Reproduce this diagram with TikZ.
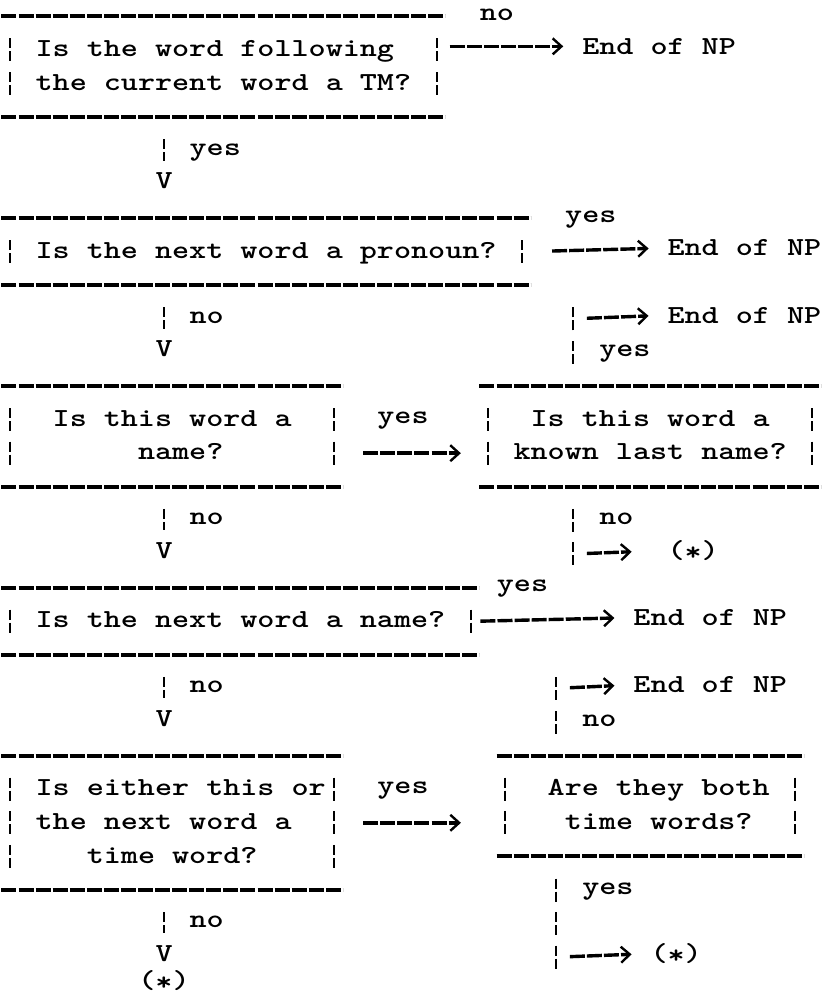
\documentclass[tikz,border=0pt]{standalone}
\usepackage{fontspec}
\newfontfamily\tw[FakeStretch=1.2505]{lmmonolt10-bold.otf}
\usetikzlibrary{arrows.meta}
\newlength\colw \setlength\colw{8.535pt}
\newlength\roww \setlength\roww{16.8pt}
\def\pad#1{\hspace*{#1\colw}}
\def\star{(\raisebox{-1pt}{*})}
\def\tfont{\fontsize{13pt}{16.8pt}\tw\frenchspacing}
\tikzset{
  box/.style={inner sep=0pt, outer sep=0pt, align=left, font=\tfont},
  lbl/.style={anchor=mid west, inner sep=0pt, font=\tfont},
  rule/.style={line width=2pt, dash pattern=on 7.5pt off 1.035pt},
  vbar/.style={line width=1.1pt, dash pattern=on 5pt off 1.5pt on 5pt off 5.3pt},
  side/.style={vbar, shorten <=11.05pt, shorten >=11.05pt},
  harrow/.style={line width=1.7pt, dash pattern=on 7.5pt off 1.035pt,
    -{Straight Barb[length=4.4pt,width=8pt,line width=1.2pt]}}
}

\begin{document}
\begin{tikzpicture}[x=8.535pt, y=-16.8pt]
			%%%%% START %%%%%
			
			\fill[white] (0.414, 0.512) rectangle (48.686, 30.274);
			\useasboundingbox (0.414, 0.512) rectangle (48.686, 30.274);
			
			\node[box, minimum width=26\colw, minimum height=3\roww] (tm) at (13.5, 2.5)
				{\strut Is the word following\\\strut the current word a TM?};
			\node[box, minimum width=31\colw, minimum height=2\roww] (pron) at (16, 8)
				{\strut Is the next word a pronoun?};
			\node[box, minimum width=20\colw, minimum height=3\roww] (name) at (10.5, 13.5)
				{\strut Is this word a\\\strut\pad{5}name?};
			\node[box, minimum width=20\colw, minimum height=3\roww] (last) at (38.5, 13.5)
				{\strut\pad{1}Is this word a\\\strut known last name?};
			\node[box, minimum width=28\colw, minimum height=2\roww] (nextname) at (14.5, 19)
				{\strut Is the next word a name?};
			\node[box, minimum width=20\colw, minimum height=4\roww] (either) at (10.5, 25)
				{\strut\pad{1}Is either this or\\\strut\pad{1}the next word a\\\strut\pad{4}time word?};
			\node[box, minimum width=18\colw, minimum height=3\roww] (both) at (38.5, 24.5)
				{\strut\pad{1}Are they both\\\strut\pad{2}time words?};
			
			\foreach \b in {tm, pron, name, last, nextname, either, both} {
				\draw[rule] (\b.north west) -- (\b.north east);
				\draw[rule] (\b.south west) -- (\b.south east);
				\draw[side] ([xshift=4.27pt]\b.north west) -- ([xshift=4.27pt]\b.south west);
				\draw[side] ([xshift=-4.27pt]\b.north east) -- ([xshift=-4.27pt]\b.south east);
			}
			
			\node[lbl] (e1) at (34.5, 2) {End of NP};
			\node[lbl] (e2) at (39.5, 8) {End of NP};
			\node[lbl] (e3) at (39.5, 10) {End of NP};
			\node[lbl] (e4) at (37.5, 19) {End of NP};
			\node[lbl] (e5) at (37.5, 21) {End of NP};
			\node[lbl] (s1) at (39.5, 17) {\star};
			\node[lbl] (s2) at (38.5, 29) {\star};
			\node[lbl] (s3) at (8.5, 29.8) {\star};
			
			\node[lbl] (v1) at (9.5, 6) {V};
			\node[lbl] (v2) at (9.5, 11) {V};
			\node[lbl] (v3) at (9.5, 17) {V};
			\node[lbl] (v4) at (9.5, 22) {V};
			\node[lbl] (v5) at (9.5, 29) {V};
			
			\node[lbl] (y1) at (28.5, 1) {no};
			\node[lbl] (y2) at (11.5, 5) {yes};
			\node[lbl] (y3) at (33.5, 7) {yes};
			\node[lbl] (y4) at (11.5, 10) {no};
			\node[lbl] (y5) at (35.5, 11) {yes};
			\node[lbl] (y6) at (22.5, 13) {yes};
			\node[lbl] (y7) at (11.5, 16) {no};
			\node[lbl] (y8) at (35.5, 16) {no};
			\node[lbl] (y9) at (29.5, 18) {yes};
			\node[lbl] (y10) at (11.5, 21) {no};
			\node[lbl] (y11) at (34.5, 22) {no};
			\node[lbl] (y12) at (22.5, 24) {yes};
			\node[lbl] (y13) at (34.5, 27) {yes};
			\node[lbl] (y14) at (11.5, 28) {no};
			
			\coordinate (k1) at (34, 10);
			\coordinate (k2) at (34, 17);
			\coordinate (k3) at (33, 21);
			\coordinate (k4) at (33, 29);
			
			\draw[vbar, shorten <=11.05pt, shorten >=5.93pt] (tm.south -| v1.north) -- (v1.north);
			\draw[vbar, shorten <=11.05pt, shorten >=5.93pt] (pron.south -| v2.north) -- (v2.north);
			\draw[vbar, shorten <=11.05pt, shorten >=5.93pt] (name.south -| v3.north) -- (v3.north);
			\draw[vbar, shorten <=11.05pt, shorten >=5.93pt] (nextname.south -| v4.north) -- (v4.north);
			\draw[vbar, shorten <=11.05pt, shorten >=5.93pt] (either.south -| v5.north) -- (v5.north);
			
			\draw[harrow, shorten <=2.2pt, shorten >=9.3pt] (tm.east |- e1.west) -- (e1.west);
			\draw[harrow, shorten <=10.7pt, shorten >=9.3pt] (pron.east) -- (e2.west);
			\draw[harrow, shorten <=10.2pt, shorten >=9.3pt] ([yshift=-8.4pt]name.east) -- ([yshift=-8.4pt]last.west);
			\draw[harrow, shorten <=0.5pt, shorten >=9.3pt] (nextname.east) -- (e4.west);
			\draw[harrow, shorten <=10.2pt, shorten >=17.8pt] (either.east) -- (either.east -| both.west);
			
			\draw[vbar, shorten <=11.05pt, shorten >=-5.75pt] (last.north -| k1) -- (k1);
			\draw[harrow, shorten <=6.8pt, shorten >=9.3pt] (k1) -- (e3.west);
			\draw[vbar, shorten <=11.05pt, shorten >=-5.75pt] (last.south -| k2) -- (k2);
			\draw[harrow, shorten <=6.8pt, shorten >=17.8pt] (k2) -- (s1.west);
			\draw[vbar, shorten <=11.05pt, shorten >=-5.75pt] (both.north -| k3) -- (k3);
			\draw[harrow, shorten <=6.8pt, shorten >=9.3pt] (k3) -- (e5.west);
			\draw[vbar, shorten <=11.05pt, shorten >=-5.75pt] (both.south -| k4) -- (k4);
			\draw[harrow, shorten <=6.8pt, shorten >=9.3pt] (k4) -- (s2.west);
			
			%%%%% END %%%%%
\end{tikzpicture}
\end{document}
